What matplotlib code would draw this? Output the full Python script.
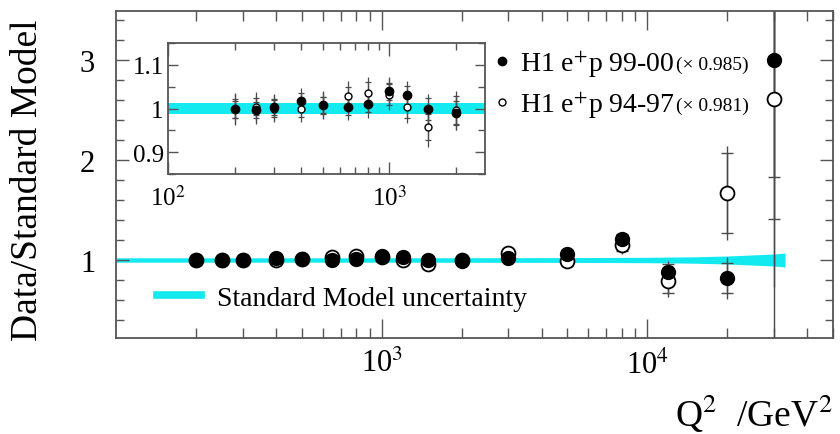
import matplotlib
matplotlib.use("Agg")
import matplotlib.pyplot as plt
from matplotlib.lines import Line2D
from matplotlib.ticker import FixedLocator, LogLocator, MultipleLocator, NullFormatter
import numpy as np

plt.rcParams['font.family'] = ['Liberation Serif', 'DejaVu Serif']
plt.rcParams['mathtext.fontset'] = 'stix'

# ---------------- data ----------------
q2 = [200, 250, 300, 400, 500, 650, 800, 1000, 1200, 1500, 2000,
      3000, 5000, 8000, 12000, 20000, 30000]
r_9900 = [0.998, 0.996, 1.004, 1.017, 1.008, 1.003, 1.011, 1.039, 1.030, 0.998, 0.990,
          1.02, 1.06, 1.21, 0.88, 0.82, 3.00]
r_9900_stat = [0.020, 0.018, 0.018, 0.018, 0.018, 0.018, 0.020, 0.020, 0.022, 0.025, 0.028,
               0.03, 0.04, 0.05, 0.08, 0.15, 1.17]
r_9900_tot = [0.035, 0.032, 0.030, 0.030, 0.030, 0.030, 0.032, 0.032, 0.034, 0.036, 0.040,
              0.04, 0.05, 0.07, 0.11, 0.21, 3.00]
r_9497 = [1.000, 1.004, 1.000, 1.000, 1.007, 1.028, 1.036, 1.032, 1.004, 0.957, 0.996,
          1.07, 0.99, 1.15, 0.79, 1.67, 2.61]
r_9497_stat = [0.022, 0.020, 0.020, 0.020, 0.020, 0.022, 0.024, 0.024, 0.026, 0.030, 0.032,
               0.035, 0.05, 0.06, 0.12, 0.40, 1.20]
r_9497_tot = [0.036, 0.034, 0.032, 0.032, 0.032, 0.034, 0.036, 0.036, 0.038, 0.045, 0.045,
              0.05, 0.06, 0.09, 0.16, 0.47, 1.88]

band_q2 = [100, 1000, 5000, 10000, 15000, 20000, 30000, 33000]
band_half = [0.022, 0.022, 0.024, 0.027, 0.032, 0.040, 0.060, 0.070]

inset_band_q2 = [100, 2700]
inset_band_half = [0.012, 0.012]

label_9900 = 'H1 e$^{+}$p 99-00'
label_9497 = 'H1 e$^{+}$p 94-97'
norm_9900 = '(× 0.985)'
norm_9497 = '(× 0.981)'
label_sm = 'Standard Model uncertainty'

main_yticks = [1, 2, 3]
main_xticks = [1e3, 1e4]
main_xticklabels = ['10$^{3}$', '10$^{4}$']
inset_yticks = [0.9, 1.0, 1.1]
inset_yticklabels = ['0.9', '1', '1.1']
inset_xticks = [1e2, 1e3]
inset_xticklabels = ['10$^{2}$', '10$^{3}$']

CYAN = '#12eaf0'
FRAME = '#555555'
ERR = '#4a4a4a'

fig = plt.figure(figsize=(8.4, 4.35), dpi=100)
W, H = 840.0, 435.0

# ---------------- main axes ----------------
ax = fig.add_axes([116 / W, 1 - 339 / H, (833 - 116) / W, (339 - 12) / H])
ax.set_xscale('log')
ax.set_xlim(100, 5e4)
ax.set_ylim(0.22, 3.49)

bq = np.array(band_q2)
bh = np.array(band_half)
ax.fill_between(bq, 1 - bh, 1 + bh, color=CYAN, lw=0, zorder=1)

q = np.array(q2)
ax.errorbar(q, r_9497, yerr=r_9497_tot, fmt='none', ecolor=ERR, elinewidth=1, capsize=0, zorder=2)
ax.errorbar(q, r_9497, yerr=r_9497_stat, fmt='none', ecolor=ERR, elinewidth=1, capsize=4, capthick=1, zorder=2)
ax.errorbar(q, r_9900, yerr=r_9900_tot, fmt='none', ecolor=ERR, elinewidth=1, capsize=0, zorder=2)
ax.errorbar(q, r_9900, yerr=r_9900_stat, fmt='none', ecolor=ERR, elinewidth=1, capsize=4, capthick=1, zorder=2)
ax.plot(q, r_9497, 'o', ms=10, mfc='white', mec='black', mew=1.3, zorder=3)
ax.plot(q, r_9900, 'o', ms=10, mfc='black', mec='black', zorder=4)

ax.xaxis.set_major_locator(FixedLocator(main_xticks))
ax.set_xticklabels(main_xticklabels)
ax.xaxis.set_minor_locator(LogLocator(base=10, subs=np.arange(2, 10)))
ax.xaxis.set_minor_formatter(NullFormatter())
ax.yaxis.set_major_locator(FixedLocator(main_yticks))
ax.set_yticklabels([str(v) for v in main_yticks])
ax.yaxis.set_minor_locator(MultipleLocator(0.2))
ax.tick_params(axis='both', which='both', direction='in', top=True, right=True, color=FRAME)
ax.tick_params(axis='x', which='major', length=14, width=1, labelsize=22, pad=8)
ax.tick_params(axis='x', which='minor', length=7, width=1)
ax.tick_params(axis='y', which='major', length=9.5, width=1, labelsize=22, pad=15)
ax.tick_params(axis='y', which='minor', length=6, width=1)
for s in ax.spines.values():
    s.set_color(FRAME)
    s.set_linewidth(1.3)

# legends
h1 = Line2D([], [], marker='o', ls='none', ms=6, mfc='black', mec='black')
h2 = Line2D([], [], marker='o', ls='none', ms=5, mfc='white', mec='black', mew=1)
leg1 = ax.legend([h1, h2], [label_9900, label_9497], loc='upper left',
                 bbox_to_anchor=(494 / W, 1 - 49 / H), bbox_transform=fig.transFigure,
                 frameon=False, fontsize=20, handlelength=0.6, handletextpad=0.35,
                 borderpad=0, borderaxespad=0, labelspacing=0.35)
ax.add_artist(leg1)

hs = Line2D([], [], color=CYAN, lw=5.5)
leg2 = ax.legend([hs], [label_sm], loc='center left',
                 bbox_to_anchor=(157 / W, 1 - 299 / H), bbox_transform=fig.transFigure,
                 frameon=False, fontsize=20, handlelength=1.6, handletextpad=0.55,
                 borderpad=0, borderaxespad=0)

# axis labels
fig.text(28 / W, 1 - 180 / H, 'Data/Standard Model', rotation=90, fontsize=27,
         ha='center', va='center')
fig.text(833 / W, 8 / H, 'Q$^{2}$  /GeV$^{2}$', ha='right', va='baseline', fontsize=27)

# ---------------- inset ----------------
axi = fig.add_axes([168 / W, 1 - 175 / H, (485 - 168) / W, (175 - 44) / H])
axi.set_xscale('log')
axi.set_xlim(100, 2700)
axi.set_ylim(0.85, 1.15)
ibq = np.array(inset_band_q2)
ibh = np.array(inset_band_half)
axi.fill_between(ibq, 1 - ibh, 1 + ibh, color=CYAN, lw=0, zorder=1)
n_in = sum(1 for v in q2 if v <= 2000)
qi = q[:n_in]
axi.errorbar(qi, r_9497[:n_in], yerr=r_9497_tot[:n_in], fmt='none', ecolor=ERR, elinewidth=0.9, capsize=0, zorder=2)
axi.errorbar(qi, r_9497[:n_in], yerr=r_9497_stat[:n_in], fmt='none', ecolor=ERR, elinewidth=0.9, capsize=2.5, capthick=0.9, zorder=2)
axi.errorbar(qi, r_9900[:n_in], yerr=r_9900_tot[:n_in], fmt='none', ecolor=ERR, elinewidth=0.9, capsize=0, zorder=2)
axi.errorbar(qi, r_9900[:n_in], yerr=r_9900_stat[:n_in], fmt='none', ecolor=ERR, elinewidth=0.9, capsize=2.5, capthick=0.9, zorder=2)
axi.plot(qi, r_9497[:n_in], 'o', ms=5, mfc='white', mec='black', mew=1, zorder=3)
axi.plot(qi, r_9900[:n_in], 'o', ms=6, mfc='black', mec='black', zorder=4)

axi.xaxis.set_major_locator(FixedLocator(inset_xticks))
axi.set_xticklabels(inset_xticklabels)
axi.xaxis.set_minor_locator(LogLocator(base=10, subs=np.arange(2, 10)))
axi.xaxis.set_minor_formatter(NullFormatter())
axi.yaxis.set_major_locator(FixedLocator(inset_yticks))
axi.set_yticklabels(inset_yticklabels)
axi.yaxis.set_minor_locator(MultipleLocator(0.05))
axi.tick_params(axis='both', which='both', direction='in', top=True, right=True, color=FRAME)
axi.tick_params(axis='x', which='major', length=9, width=1, labelsize=18, pad=8)
axi.tick_params(axis='x', which='minor', length=5, width=1)
axi.tick_params(axis='y', which='major', length=7, width=1, labelsize=18, pad=3)
axi.tick_params(axis='y', which='minor', length=5, width=1)
for s in axi.spines.values():
    s.set_color(FRAME)
    s.set_linewidth(1.3)

# normalisation factors placed right after each legend label
fig.canvas.draw()
for t, n in zip(leg1.get_texts(), [norm_9900, norm_9497]):
    bb = t.get_window_extent()
    fig.text((bb.x1 + 1) / W, (bb.y0 + 6) / H, n, ha='left', va='bottom', fontsize=14)

fig.savefig('out.png', dpi=100)
